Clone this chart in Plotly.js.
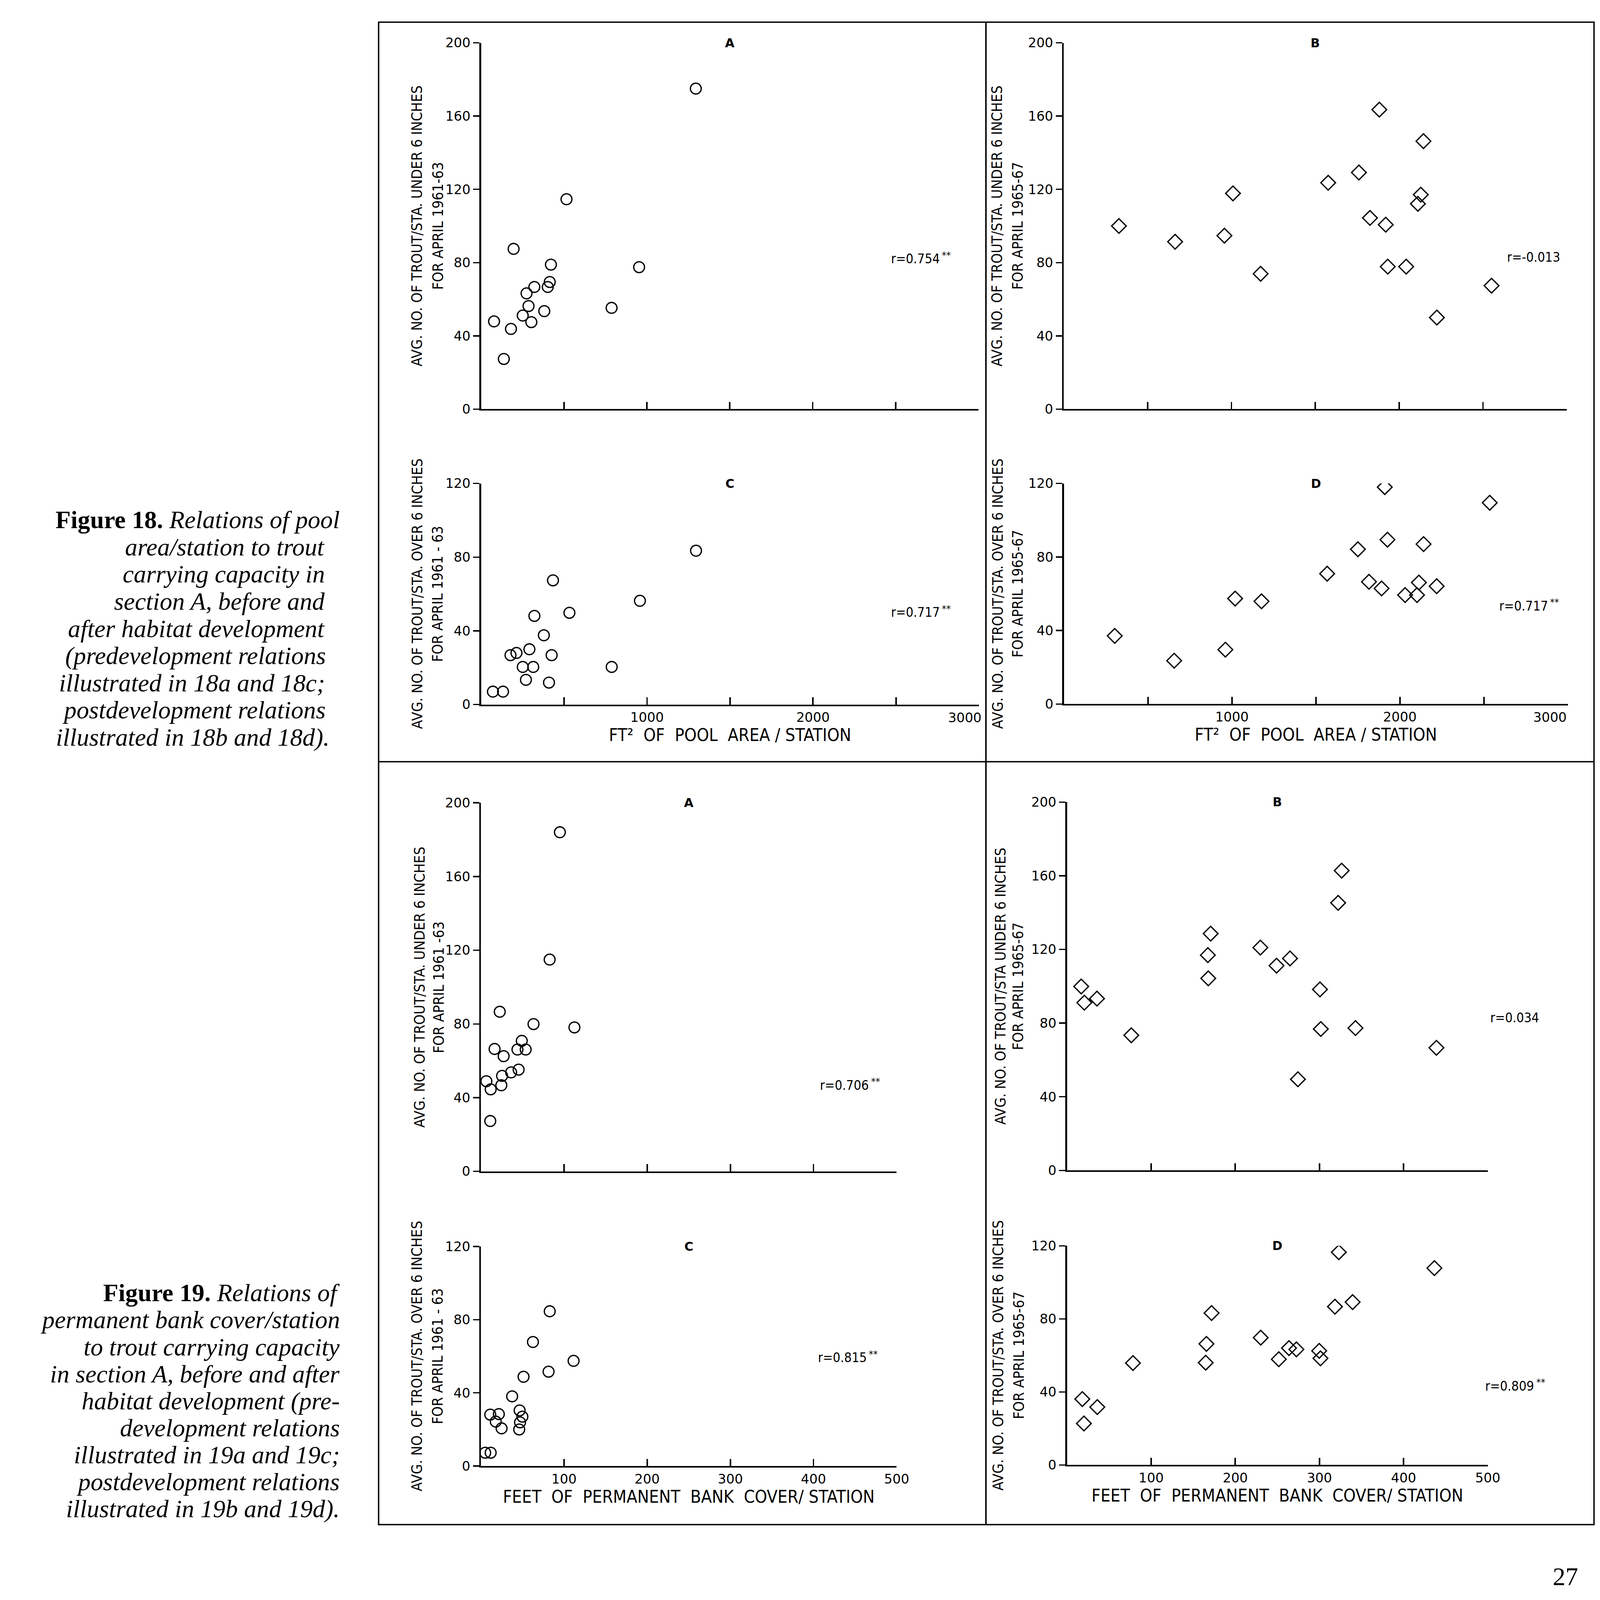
<!DOCTYPE html>
<html><head><meta charset="utf-8">
<script src="https://cdn.plot.ly/plotly-3.0.1.min.js"></script>
<style>html,body{margin:0;padding:0;background:#fff;overflow:hidden;}</style>
</head><body><div id="chart"></div>
<script>
// ---------- Figure 18: pool area / station ----------
const fig18A_poolArea = [1295, 515, 196, 421, 953, 414, 402, 321, 274, 286, 381, 787, 251, 303, 78, 180, 137];
const fig18A_under6   = [175, 114.6, 87.5, 78.9, 77.5, 69.4, 66.7, 66.7, 63.2, 56.3, 53.5, 55.3, 51.1, 47.5, 47.9, 43.8, 27.4];
const fig18C_poolArea = [1295, 433, 957, 532, 321, 378, 291, 213, 177, 425, 251, 314, 787, 270, 409, 71, 132];
const fig18C_over6    = [83.5, 67.4, 56.3, 49.8, 48.1, 37.6, 30.0, 28.0, 26.8, 26.8, 20.4, 20.4, 20.4, 13.4, 11.9, 7.0, 7.0];
const fig18B_poolArea = [329, 664, 958, 1009, 1174, 1577, 1760, 1882, 1826, 1920, 2145, 2129, 2112, 1932, 2042, 2225, 2551];
const fig18B_under6   = [100, 91.4, 94.7, 117.8, 73.9, 123.6, 129.2, 163.5, 104.4, 100.7, 146.3, 117.1, 112.1, 77.8, 77.8, 50, 67.4];
const fig18D_poolArea = [1910, 2535, 1926, 2141, 1750, 1567, 1816, 2113, 2219, 1891, 2031, 2102, 1019, 1176, 302, 961, 656];
const fig18D_over6    = [118, 109.5, 89.4, 87, 84.2, 70.9, 66.5, 66.1, 64.1, 62.9, 59.3, 59.3, 57.4, 55.9, 37.1, 29.6, 23.6];

// ---------- Figure 19: permanent bank cover / station ----------
const fig19A_bankCover = [95, 82.7, 22.7, 63.3, 112.5, 49.2, 16.5, 44, 53.9, 27.4, 45.4, 36.4, 25.5, 6.6, 24.6, 11.8, 11.3];
const fig19A_under6    = [184, 114.9, 86.6, 79.9, 78.1, 70.8, 66.4, 66.1, 66.1, 62.5, 55.2, 53.7, 51.8, 48.9, 46.7, 44.5, 27.3];
const fig19C_bankCover = [82.8, 62.6, 111.5, 81.4, 51.3, 37.6, 46.6, 11.3, 21.6, 49.9, 17.9, 47.1, 24.9, 46.1, 5.2, 11.8];
const fig19C_over6     = [84.6, 67.8, 57.5, 51.6, 48.8, 38.1, 30.4, 28.1, 28.4, 27.0, 24.3, 23.9, 20.6, 20.0, 7.3, 7.3];
const fig19B_bankCover = [326.4, 322.2, 170.7, 229.8, 167.4, 265, 249, 167.9, 16.9, 300.6, 35.6, 20.6, 301.6, 342.8, 76.4, 439, 274.4];
const fig19B_under6    = [162.8, 145.3, 128.6, 121, 116.9, 115.1, 111.2, 104.3, 99.9, 98.3, 93.3, 91.1, 76.8, 77.3, 73.4, 66.6, 49.5];
const fig19D_bankCover = [323, 436.6, 339.4, 318.4, 171.8, 230.2, 165.7, 263.8, 272.6, 299.7, 301.2, 251.7, 164.8, 78.4, 18.2, 36, 20.1];
const fig19D_over6     = [116.5, 107.8, 89.2, 86.7, 83.2, 69.7, 66.3, 64, 63.3, 62.5, 58.4, 57.9, 56, 55.8, 36.1, 31.7, 22.7];

// ---------- ticks & texts ----------
const poolMajorTicks = [1000, 2000];
const poolLastTick = 3000;
const poolAllTicks = [500, 1000, 1500, 2000, 2500, 3000];
const bankTicks = [100, 200, 300, 400, 500];
const underTicks = [0, 40, 80, 120, 160, 200];
const overTicks = [0, 40, 80, 120];

const poolTitle = 'FT\u00B2  OF  POOL  AREA / STATION';
const bankTitle = 'FEET  OF  PERMANENT  BANK  COVER/ STATION';

const caption18 = [
  '<b>Figure 18.</b> <i>Relations of pool</i>',
  '<i>area/station to trout</i>',
  '<i>carrying capacity in</i>',
  '<i>section A, before and</i>',
  '<i>after habitat development</i>',
  '<i>(predevelopment relations</i>',
  '<i>illustrated in 18a and 18c;</i>',
  '<i>postdevelopment relations</i>',
  '<i>illustrated in 18b and 18d).</i>'
];
const caption19 = [
  '<b>Figure 19.</b> <i>Relations of</i>',
  '<i>permanent bank cover/station</i>',
  '<i>to trout carrying capacity</i>',
  '<i>in section A, before and after</i>',
  '<i>habitat development (pre-</i>',
  '<i>development relations</i>',
  '<i>illustrated in 19a and 19c;</i>',
  '<i>postdevelopment relations</i>',
  '<i>illustrated in 19b and 19d).</i>'
];

// ---------- page geometry (reference pixels -> window) ----------
const W = 6415, H = 7215;
const vw = window.innerWidth || W, vh = window.innerHeight || H;
const sx = vw / W, sy = vh / H, sm = Math.sqrt(sx * sy);
const fx = v => v / W;
const fy = v => 1 - v / H;

const panels = [
  {x: fig18A_poolArea, y: fig18A_under6, sym: 'circle-open', xd: [1929, 3923], yd: [193, 1845], xr: [0, 3000], yr: [0, 200],
   kind: 'pool', lab: false, ytv: underTicks, t1: 'AVG. NO. OF TROUT/STA. UNDER 6 INCHES', t2: 'FOR APRIL 1961-63', l1: 1672, l2: 1756,
   letter: 'A', r: 'r=0.754', star: true, rx: 0.924, ry: 82},
  {x: fig18B_poolArea, y: fig18B_under6, sym: 'diamond-open', xd: [4265, 6282], yd: [193, 1845], xr: [0, 3000], yr: [0, 200],
   kind: 'pool', lab: false, ytv: underTicks, t1: 'AVG. NO. OF TROUT/STA. UNDER 6 INCHES', t2: 'FOR APRIL 1965-67', l1: 3998, l2: 4080,
   letter: 'B', r: 'r=-0.013', star: false, rx: 0.988, ry: 83},
  {x: fig18C_poolArea, y: fig18C_over6, sym: 'circle-open', xd: [1929, 3925], yd: [2180, 3177], xr: [0, 3000], yr: [0, 120],
   kind: 'pool', lab: true, ytv: overTicks, t1: 'AVG. NO. OF TROUT/STA. OVER 6 INCHES', t2: 'FOR APRIL 1961 - 63', l1: 1672, l2: 1754,
   xtitle: poolTitle, lastX: 2915, letter: 'C', r: 'r=0.717', star: true, rx: 0.923, ry: 50},
  {x: fig18D_poolArea, y: fig18D_over6, sym: 'diamond-open', xd: [4266, 6286], yd: [2180, 3175], xr: [0, 3000], yr: [0, 120],
   kind: 'pool', lab: true, ytv: overTicks, t1: 'AVG. NO. OF TROUT/STA. OVER 6 INCHES', t2: 'FOR APRIL 1965-67', l1: 4000, l2: 4080,
   xtitle: poolTitle, lastX: 2895, letter: 'D', r: 'r=0.717', star: true, rx: 0.962, ry: 53.4},
  {x: fig19A_bankCover, y: fig19A_under6, sym: 'circle-open', xd: [1928, 3595], yd: [3620, 5282], xr: [0, 500], yr: [0, 200],
   kind: 'bank', lab: false, ytv: underTicks, t1: 'AVG. NO. OF TROUT/STA. UNDER 6 INCHES', t2: 'FOR APRIL 1961 -63', l1: 1682, l2: 1758,
   letter: 'A', r: 'r=0.706', star: true, rx: 0.935, ry: 46.7},
  {x: fig19B_bankCover, y: fig19B_under6, sym: 'diamond-open', xd: [4278, 5965], yd: [3617, 5278], xr: [0, 500], yr: [0, 200],
   kind: 'bank', lab: false, ytv: underTicks, t1: 'AVG. NO. OF TROUT/STA UNDER 6 INCHES', t2: 'FOR APRIL 1965-67', l1: 4010, l2: 4082,
   letter: 'B', r: 'r=0.034', star: false, rx: 1.124, ry: 82.8},
  {x: fig19C_bankCover, y: fig19C_over6, sym: 'circle-open', xd: [1928, 3595], yd: [5621, 6611], xr: [0, 500], yr: [0, 120],
   kind: 'bank', lab: true, ytv: overTicks, t1: 'AVG. NO. OF TROUT/STA. OVER 6 INCHES', t2: 'FOR APRIL 1961 - 63', l1: 1672, l2: 1754,
   xtitle: bankTitle, letter: 'C', r: 'r=0.815', star: true, rx: 0.930, ry: 59.2},
  {x: fig19D_bankCover, y: fig19D_over6, sym: 'diamond-open', xd: [4278, 5965], yd: [5618, 6606], xr: [0, 500], yr: [0, 120],
   kind: 'bank', lab: true, ytv: overTicks, t1: 'AVG. NO. OF TROUT/STA. OVER 6 INCHES', t2: 'FOR APRIL 1965-67', l1: 4002, l2: 4085,
   xtitle: bankTitle, letter: 'D', r: 'r=0.809', star: true, rx: 1.112, ry: 43.2}
];

const FONT = 'DejaVu Sans, Verdana, sans-serif';
const NARROW = 'Liberation Sans Narrow, Arial Narrow, DejaVu Sans Condensed, sans-serif';
const SERIF = 'Liberation Serif, Times New Roman, serif';
const traces = [];
const annotations = [];
const layout = {
  width: vw, height: vh,
  margin: {l: 0, r: 0, t: 0, b: 0},
  paper_bgcolor: '#ffffff', plot_bgcolor: '#ffffff',
  showlegend: false,
  font: {family: FONT, color: '#000'},
  shapes: [
    {type: 'rect', xref: 'paper', yref: 'paper', x0: fx(1518), x1: fx(6391), y0: fy(100), y1: fy(6875), line: {color: '#000', width: 6 * sm}},
    {type: 'line', xref: 'paper', yref: 'paper', x0: fx(3953), x1: fx(3953), y0: fy(100), y1: fy(6875), line: {color: '#000', width: 6 * sx}},
    {type: 'line', xref: 'paper', yref: 'paper', x0: fx(1518), x1: fx(6391), y0: fy(3435), y1: fy(3435), line: {color: '#000', width: 6 * sy}}
  ],
  annotations: annotations
};

panels.forEach((p, i) => {
  const n = i === 0 ? '' : String(i + 1);
  const xa = 'x' + n, ya = 'y' + n;
  traces.push({
    type: 'scatter', mode: 'markers', x: p.x, y: p.y, xaxis: xa, yaxis: ya,
    marker: {symbol: p.sym, size: (p.sym === 'circle-open' ? 46 : 48) * sm, color: '#000', line: {color: '#000', width: 5.5 * sm}},
    hoverinfo: 'x+y'
  });
  const xax = {
    domain: [fx(p.xd[0]), fx(p.xd[1])], anchor: ya, range: p.xr, fixedrange: true,
    showline: true, linecolor: '#000', linewidth: 7 * sy,
    showgrid: false, zeroline: false,
    ticks: 'inside', ticklen: 32 * sy, tickwidth: 6 * sx, tickcolor: '#000',
    tickfont: {family: FONT, size: 56 * sm, color: '#000'},
    automargin: false
  };
  if (p.kind === 'pool') {
    if (p.lab) {
      xax.tickmode = 'array'; xax.tickvals = poolMajorTicks;
      xax.minor = {tickmode: 'array', tickvals: poolAllTicks, ticks: 'inside', ticklen: 32 * sy, tickwidth: 6 * sx, tickcolor: '#000', showgrid: false};
    } else {
      xax.tickmode = 'array'; xax.tickvals = poolAllTicks;
    }
  } else {
    xax.tickmode = 'array'; xax.tickvals = bankTicks;
  }
  xax.showticklabels = p.lab;
  if (p.lab) xax.ticklabelstandoff = 14 * sy;
  if (p.xtitle) xax.title = {text: p.xtitle, font: {family: NARROW, size: 70 * sx, color: '#000'}, standoff: 20 * sy};
  layout['xaxis' + n] = xax;
  layout['yaxis' + n] = {
    domain: [fy(p.yd[1]), fy(p.yd[0])], anchor: xa, range: p.yr, fixedrange: true,
    showline: true, linecolor: '#000', linewidth: 7 * sx,
    showgrid: false, zeroline: false,
    tickmode: 'array', tickvals: p.ytv, ticks: 'outside', ticklen: 25 * sx, tickwidth: 6 * sy, tickcolor: '#000',
    ticklabelstandoff: -8 * sx,
    tickfont: {family: FONT, size: 56 * sm, color: '#000'},
    automargin: false
  };
  // last x tick label (3000) sits left of its tick, clear of the divider
  if (p.lastX) {
    annotations.push({xref: xa, yref: ya + ' domain', x: p.lastX, y: 0, xanchor: 'center', yanchor: 'middle',
      yshift: -60 * sy, text: String(poolLastTick), showarrow: false, font: {family: FONT, size: 56 * sm, color: '#000'}});
  }
  // y-axis title: two rotated lines
  const yc = fy((p.yd[0] + p.yd[1]) / 2);
  annotations.push({xref: 'paper', yref: 'paper', x: fx(p.l1), y: yc, xanchor: 'center', yanchor: 'middle', textangle: -90,
    text: p.t1, showarrow: false, font: {family: NARROW, size: 66 * sy, color: '#000'}});
  annotations.push({xref: 'paper', yref: 'paper', x: fx(p.l2), y: yc, xanchor: 'center', yanchor: 'middle', textangle: -90,
    text: p.t2, showarrow: false, font: {family: NARROW, size: 66 * sy, color: '#000'}});
  // panel letter
  annotations.push({
    xref: xa + ' domain', yref: ya + ' domain', x: 0.5, y: 1, xanchor: 'center', yanchor: 'middle',
    text: p.letter, showarrow: false, font: {family: FONT, size: 52 * sm, weight: 'bold', color: '#000'}
  });
  // correlation coefficient (with raised significance stars)
  annotations.push({
    xref: xa + ' domain', yref: ya, x: p.rx, y: p.ry, xanchor: 'right', yanchor: 'middle',
    text: p.r, showarrow: false, font: {family: NARROW, size: 53 * sx, color: '#000'}
  });
  if (p.star) {
    annotations.push({
      xref: xa + ' domain', yref: ya, x: p.rx, y: p.ry, xanchor: 'left', yanchor: 'middle', yshift: 18 * sy, xshift: 2 * sx,
      text: '**', showarrow: false, font: {family: NARROW, size: 40 * sx, color: '#000'}
    });
  }
});

const cap18Right = [1366, 1306, 1306, 1306, 1306, 1310, 1306, 1310, 1325];
caption18.forEach((t, k) => {
  annotations.push({xref: 'paper', yref: 'paper', x: fx(cap18Right[k]), y: fy(2344 + k * 122.6),
    xanchor: 'right', yanchor: 'middle', text: t, showarrow: false,
    font: {family: SERIF, size: 100 * sx, color: '#000'}});
});
caption19.forEach((t, k) => {
  annotations.push({xref: 'paper', yref: 'paper', x: fx(1366), y: fy(5830 + k * 121.8),
    xanchor: 'right', yanchor: 'middle', text: t, showarrow: false,
    font: {family: SERIF, size: 100 * sx, color: '#000'}});
});
annotations.push({xref: 'paper', yref: 'paper', x: fx(6276), y: fy(7110), xanchor: 'center', yanchor: 'middle',
  text: '27', showarrow: false, font: {family: SERIF, size: 108 * sm, color: '#000'}});

const el = document.getElementById('chart');
el.style.width = vw + 'px';
el.style.height = vh + 'px';
Plotly.newPlot(el, traces, layout, {staticPlot: true, displayModeBar: false});
</script>
</body></html>
